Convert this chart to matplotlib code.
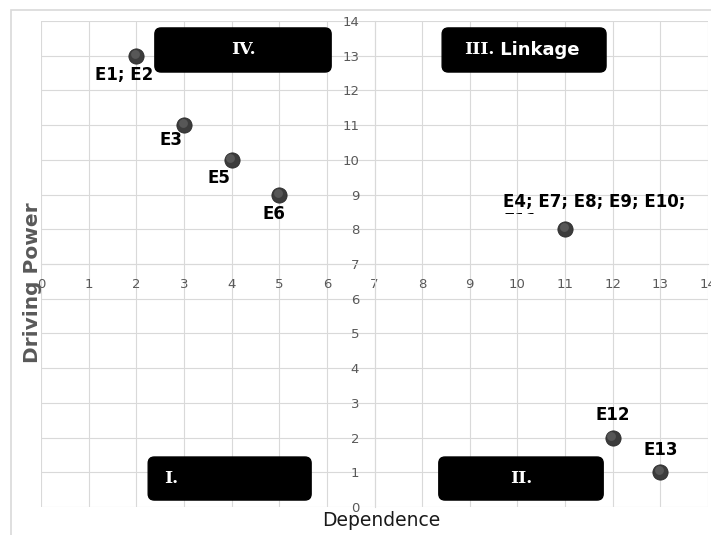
import numpy as np
import matplotlib
matplotlib.use("Agg")
import matplotlib.pyplot as plt
from matplotlib.patches import FancyBboxPatch, Rectangle
from matplotlib.transforms import ScaledTranslation

## Datos
dependence = [2, 3, 4, 5, 11, 12, 13]
driving_power = [13, 11, 10, 9, 8, 2, 1]
labels = ["E1; E2", "E3", "E5", "E6", "E4; E7; E8; E9; E10;\nE11", "E12", "E13"]
x_ticks = list(range(0, 15))
y_ticks = list(range(0, 15))

# cuadrantes: (texto, x0, x1, y0, y1)
quad_names = ["IV.", "III. Linkage", "I.", "II."]
quad_x0 = [2.39, 8.42, 2.25, 8.35]
quad_x1 = [6.09, 11.86, 5.67, 11.80]
quad_y0 = [12.53, 12.53, 0.20, 0.20]
quad_y1 = [13.80, 13.80, 1.44, 1.44]

grey = '#595959'
grid_c = '#d9d9d9'

fig = plt.figure(figsize=(7.11, 5.35), dpi=100)
ax = fig.add_axes([41/711, 1 - 507/535, 667/711, (507 - 21)/535])
ax.set_xlim(0, 14)
ax.set_ylim(0, 14)
ax.set_xticks(x_ticks)
ax.set_yticks(y_ticks)
ax.grid(True, color=grid_c, lw=0.8, zorder=0)
ax.set_axisbelow(True)

# ejes cruzando en (7, 7)
ax.spines['left'].set_position(('data', 7))
ax.spines['bottom'].set_position(('data', 7))
for side in ['left', 'bottom']:
    ax.spines[side].set_color(grid_c)
    ax.spines[side].set_linewidth(0.8)
for side in ['right', 'top']:
    ax.spines[side].set_visible(False)
ax.tick_params(axis='y', length=0, pad=11, labelsize=9.5, labelcolor=grey)
ax.tick_params(axis='x', length=0, pad=10, labelsize=9.5, labelcolor=grey)

# puntos (esferas)
ax.scatter(dependence, driving_power, s=120, color='#3c3c3c', edgecolor='#2a2a2a',
           lw=0.6, zorder=4)
hl = ax.transData + ScaledTranslation(-1.0/72, 1.4/72, fig.dpi_scale_trans)
ax.scatter(dependence, driving_power, s=40, color='#7a7a7a', alpha=0.45,
           lw=0, zorder=5, transform=hl)

# etiquetas de datos
offsets = [(-9, -14), (-9, -11), (-9, -13), (-4, -14), (21, 26), (0, 16), (0, 16)]
for xi, yi, lab, off in zip(dependence, driving_power, labels, offsets):
    if '\n' in lab:
        t = ax.annotate(lab, (xi, yi), xytext=off, textcoords='offset points',
                        ha='center', va='top', multialignment='left',
                        fontsize=12, fontweight='bold',
                        color='black', zorder=6, linespacing=1.05)
        clip = Rectangle((0, 8.45), 14, 6, transform=ax.transData)
        t.set_clip_path(clip)
    else:
        ax.annotate(lab, (xi, yi), xytext=off, textcoords='offset points',
                    ha='center', va='center', fontsize=12, fontweight='bold',
                    color='black', zorder=6)

# cajas de cuadrantes
box_fs = 12.5
for name, x0, x1, y0, y1 in zip(quad_names, quad_x0, quad_x1, quad_y0, quad_y1):
    box = FancyBboxPatch((x0, y0), x1 - x0, y1 - y0,
                         boxstyle="round,pad=0,rounding_size=0.13",
                         mutation_aspect=1.37, fc='black', ec='black', zorder=3)
    ax.add_patch(box)
    cy = (y0 + y1) / 2
    if name == "I.":
        ax.text(x0 + 0.33, cy, name, ha='left', va='center', color='white',
                fontsize=box_fs, fontweight='bold', family='DejaVu Serif', zorder=4)
    elif name == "III. Linkage":
        t1 = ax.text(x0 + 0.46, cy, "III.", ha='left', va='center',
                     color='white', fontsize=box_fs, fontweight='bold',
                     family='DejaVu Serif', zorder=4)
        ax.annotate(" Linkage", xy=(1, 0.5), xycoords=t1, ha='left', va='center',
                    color='white', fontsize=box_fs + 0.5, fontweight='bold', zorder=4)
    else:
        ax.text((x0 + x1) / 2, cy, name, ha='center', va='center', color='white',
                fontsize=box_fs, fontweight='bold', family='DejaVu Serif', zorder=4)

# titulos de ejes
fig.text(33/711, 1 - 283/535, "Driving Power", rotation=90, ha='center', va='center',
         fontsize=14.5, fontweight='bold', color=grey)
fig.text(381/711, 1 - 521/535, "Dependence", ha='center', va='center',
         fontsize=13.5, color='#1a1a1a')

# borde del area del grafico
fig.patches.append(Rectangle((11/711, -0.05), 1.0, 1 - 10/535 + 0.05,
                             transform=fig.transFigure, fill=False,
                             ec=grid_c, lw=1.2, zorder=0))

plt.savefig('out.png', dpi=100)
